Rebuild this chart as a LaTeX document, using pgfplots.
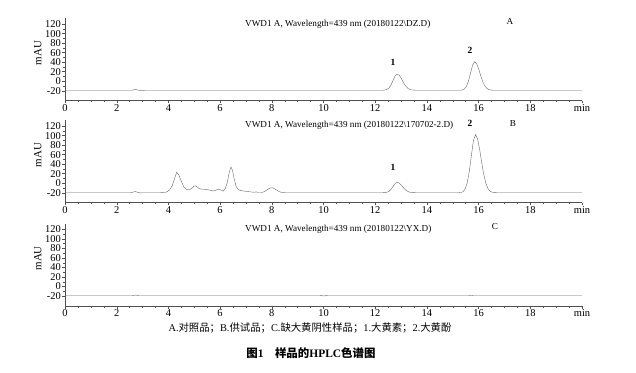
\documentclass[border=0pt]{standalone}
\usepackage{fontspec}
\setmainfont{Liberation Serif}
\newfontfamily\cjk{Noto Sans CJK SC}
\usepackage{pgfplots}
\pgfplotsset{compat=1.18}
\definecolor{axc}{HTML}{505050}
\definecolor{lnc}{HTML}{666666}
\pgfplotsset{chrom/.style={
  scale only axis, width=517bp, height=82.3bp, anchor=south west,
  xmin=0, xmax=20, ymin=-41, ymax=132,
  axis x line=bottom, axis y line=left,
  axis line style={-, draw=axc, line width=0.5bp},
  xtick={0,2,...,20}, xticklabels={0,2,4,6,8,10,12,14,16,18,min},
  ytick={-20,0,...,120}, yticklabels={-20,0,20,40,60,80,100,120},
  minor x tick num=3, minor y tick num=1,
  tick align=outside, major tick length=2.5bp, minor tick length=1.5bp,
  tick style={draw=axc, line width=0.4bp},
  xticklabel style={font=\fontsize{10.5}{11}\selectfont, inner sep=1.2bp},
  yticklabel style={font=\fontsize{10.5}{11}\selectfont, inner sep=1.5bp},
  /pgf/number format/assume math mode=true,
  ylabel={mAU}, ylabel style={font=\fontsize{11}{12}\selectfont, at={(ticklabel cs:0.58)}, inner sep=0bp, yshift=2bp},
  cycle list={{draw=lnc, line width=0.55bp, line join=round}},
  every axis plot/.append style={no markers},
}}
\begin{document}
\begin{tikzpicture}
\path (0,0) rectangle (636bp,-373bp);
% ---------- Panel A ----------
\begin{axis}[chrom, at={(65bp,-100.7bp)}]
\addplot coordinates {
(0,-19) (2.6,-19) (2.68,-17.8) (2.75,-17.5) (2.82,-18.6) (2.95,-19.8) (3.1,-19)
(12.3,-19) (12.37,-18.6) (12.45,-17.5) (12.53,-14.4) (12.61,-8.0) (12.69,1.6) (12.77,11.0) (12.85,15)
(12.93,12.4) (13.01,5.7) (13.09,-2.4) (13.17,-9.5) (13.25,-14.4) (13.33,-17.1) (13.41,-18.3) (13.49,-18.8) (13.6,-19)
(15.3,-19) (15.37,-18.3) (15.45,-16.4) (15.53,-10.9) (15.61,0.5) (15.69,17.4) (15.77,34) (15.85,41)
(15.93,36.4) (16.01,24.6) (16.09,10.2) (16.17,-2.3) (16.25,-10.9) (16.33,-15.6) (16.41,-17.8) (16.49,-18.6) (16.6,-19)
(20,-19)};
\end{axis}
% ---------- Panel B ----------
\begin{axis}[chrom, at={(65bp,-202.7bp)}]
\addplot coordinates {
(0,-20) (2.55,-20) (2.65,-18.5) (2.72,-17.5) (2.8,-19) (2.9,-20.5) (3.0,-20)
(3.7,-20) (3.85,-19.5) (3.95,-18) (4.05,-14) (4.15,-5) (4.25,12) (4.32,23) (4.4,18) (4.5,4)
(4.6,-8) (4.7,-13) (4.8,-14) (4.9,-11) (5.0,-6) (5.05,-5.5) (5.12,-8) (5.2,-11.5) (5.3,-12.5)
(5.45,-13) (5.6,-14.5) (5.72,-16.5) (5.82,-15) (5.92,-12.5) (6.02,-14) (6.12,-16.5) (6.2,-12)
(6.28,2) (6.35,22) (6.42,34) (6.48,27) (6.55,8) (6.62,-7) (6.7,-13) (6.8,-15.5) (7.0,-17)
(7.2,-18.5) (7.35,-19) (7.4,-18) (7.45,-19.5) (7.6,-19.5) (7.7,-18) (7.8,-14.5) (7.9,-11)
(7.98,-9.5) (8.05,-10) (8.15,-13) (8.25,-16.5) (8.35,-19) (8.5,-20)
(12.3,-20) (12.37,-19.8) (12.45,-19.0) (12.53,-17.1) (12.61,-12.9) (12.69,-6.9) (12.77,-0.6) (12.85,2)
(12.93,0.3) (13.01,-4.0) (13.09,-9.3) (13.17,-13.9) (13.25,-17.0) (13.33,-18.8) (13.41,-19.6) (13.55,-20)
(15.24,-20) (15.32,-19.5) (15.40,-17.7) (15.48,-12.3) (15.56,0.7) (15.64,25) (15.72,58.3) (15.80,89.2) (15.88,102)
(15.96,93.5) (16.04,71.3) (16.12,43.4) (16.20,18.2) (16.28,-0.1) (16.36,-11) (16.44,-16.5) (16.52,-18.8) (16.60,-19.7) (16.7,-20)
(20,-20)};
\end{axis}
% ---------- Panel C ----------
\begin{axis}[chrom, at={(65bp,-306bp)}]
\addplot coordinates {
(0,-19.5) (2.6,-19.5) (2.68,-18.4) (2.75,-18) (2.85,-19.5) (9.85,-19.5) (9.9,-19) (10.0,-19.8)
(10.1,-19.2) (10.2,-19.5) (15.6,-19.5) (15.7,-18.8) (15.8,-19.5) (20,-19.5)};
\end{axis}
% ---------- texts ----------
\begin{scope}[every node/.style={inner sep=0pt, font=\fontsize{9.2}{10}\selectfont}]
\node[anchor=west] at (245bp,-24.5bp) {VWD1 A, Wavelength=439 nm (20180122\textbackslash DZ.D)};
\node[anchor=west] at (245bp,-125.7bp) {VWD1 A, Wavelength=439 nm (20180122\textbackslash 170702-2.D)};
\node[anchor=west] at (245bp,-229bp) {VWD1 A, Wavelength=439 nm (20180122\textbackslash YX.D)};
\node at (510bp,-21.7bp) {A};
\node at (513bp,-124bp) {B};
\node at (495bp,-227bp) {C};
\node[font=\fontsize{9.5}{10}\selectfont\bfseries] at (393bp,-62bp) {1};
\node[font=\fontsize{9.5}{10}\selectfont\bfseries] at (470bp,-50bp) {2};
\node[font=\fontsize{9.5}{10}\selectfont\bfseries] at (393bp,-167bp) {1};
\node[font=\fontsize{9.5}{10}\selectfont\bfseries] at (470bp,-123bp) {2};
\node[font=\fontsize{10.4}{11}\selectfont] at (310bp,-327.5bp) {A.{\cjk 对照品；}B.{\cjk 供试品；}C.{\cjk 缺大黄阴性样品；}1.{\cjk 大黄素；}2.{\cjk 大黄酚}};
\node[font=\fontsize{11.5}{12}\selectfont\bfseries] at (311bp,-353.5bp) {{\cjk 图}1\hspace{1em}{\cjk 样品的}HPLC{\cjk 色谱图}};
\end{scope}
\end{tikzpicture}
\end{document}
